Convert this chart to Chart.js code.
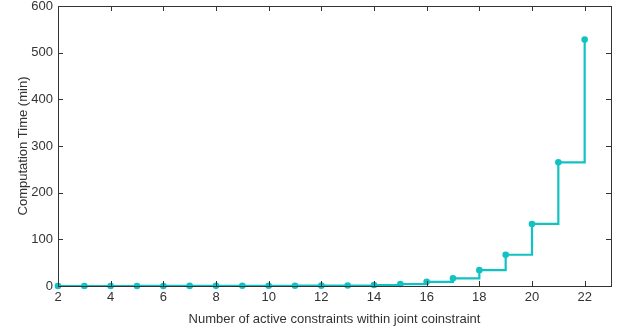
<!DOCTYPE html>
<html>
<head>
<meta charset="utf-8">
<script src="https://cdn.jsdelivr.net/npm/chart.js@4/dist/chart.umd.min.js"></script>
<style>
  html, body { margin: 0; padding: 0; background: #fff; }
  #wrap { width: 626px; height: 330px; }
</style>
</head>
<body>
<div id="wrap"><canvas id="chart"></canvas></div>
<script>
const constraints = [2, 3, 4, 5, 6, 7, 8, 9, 10, 11, 12, 13, 14, 15, 16, 17, 18, 19, 20, 21, 22]
const timeMin = [0.01, 0.02, 0.03, 0.06, 0.1, 0.2, 0.3, 0.4, 0.5, 0.6, 0.8, 1.0, 2.0, 4.2, 9, 16.5, 34, 67, 133, 265, 528]
const xTicks = [2, 4, 6, 8, 10, 12, 14, 16, 18, 20, 22]
const yTicks = [0, 100, 200, 300, 400, 500, 600]

const lineColor = '#12c2c2'
const axisColor = '#333333'

// box around plot with inward tick marks, matlab style
const boxPlugin = {
    id: 'box',
    afterDraw: chart => {
        const { ctx, chartArea: a, scales } = chart
        ctx.save()
        ctx.strokeStyle = axisColor
        ctx.lineWidth = 1
        ctx.strokeRect(Math.round(a.left) + .5, Math.round(a.top) + .5, Math.round(a.right - a.left), Math.round(a.bottom - a.top))
        const len = 5
        ctx.beginPath()
        xTicks.forEach(v => {
            const x = Math.round(scales.x.getPixelForValue(v)) + .5
            ctx.moveTo(x, a.bottom); ctx.lineTo(x, a.bottom - len)
            ctx.moveTo(x, a.top); ctx.lineTo(x, a.top + len)
        })
        yTicks.forEach(v => {
            const y = Math.round(scales.y.getPixelForValue(v)) + .5
            ctx.moveTo(a.left, y); ctx.lineTo(a.left + len, y)
            ctx.moveTo(a.right, y); ctx.lineTo(a.right - len, y)
        })
        ctx.stroke()
        ctx.restore()
    }
}

const chart = new Chart(document.getElementById('chart'), {
    type: 'line',
    data: {
        datasets: [{
            data: constraints.map((c, i) => ({ x: c, y: timeMin[i] })),
            borderColor: lineColor,
            backgroundColor: lineColor,
            borderWidth: 2.2,
            pointRadius: 3.3,
            pointBorderWidth: 0,
            stepped: 'before',
            clip: false
        }]
    },
    options: {
        responsive: true,
        maintainAspectRatio: false,
        animation: false,
        layout: { padding: { top: 6, right: 15, left: 0, bottom: 3 } },
        plugins: { legend: { display: false }, tooltip: { enabled: false } },
        scales: {
            x: {
                type: 'linear',
                min: 2,
                max: 23,
                afterBuildTicks: s => { s.ticks = xTicks.map(v => ({ value: v })) },
                afterFit: s => { s.height = 41; s.paddingLeft = 0; s.paddingRight = 0 },
                grid: { display: false, drawTicks: false },
                border: { display: false },
                ticks: {
                    color: axisColor,
                    padding: 4,
                    maxRotation: 0,
                    font: { family: 'Liberation Sans', size: 13 }
                },
                title: {
                    display: true,
                    text: 'Number of active constraints within joint coinstraint',
                    color: axisColor,
                    padding: { top: 0, bottom: 0 },
                    font: { family: 'Liberation Sans', size: 13 }
                }
            },
            y: {
                min: 0,
                max: 600,
                afterBuildTicks: s => { s.ticks = yTicks.map(v => ({ value: v })) },
                afterFit: s => { s.width = 58; s.paddingTop = 0; s.paddingBottom = 0 },
                grid: { display: false, drawTicks: false },
                border: { display: false },
                ticks: {
                    color: axisColor,
                    padding: 5,
                    font: { family: 'Liberation Sans', size: 13 }
                },
                title: {
                    display: true,
                    text: 'Computation Time (min)',
                    color: axisColor,
                    padding: { top: 16, bottom: 0 },
                    font: { family: 'Liberation Sans', size: 13 }
                }
            }
        }
    },
    plugins: [boxPlugin]
})
</script>
</body>
</html>
